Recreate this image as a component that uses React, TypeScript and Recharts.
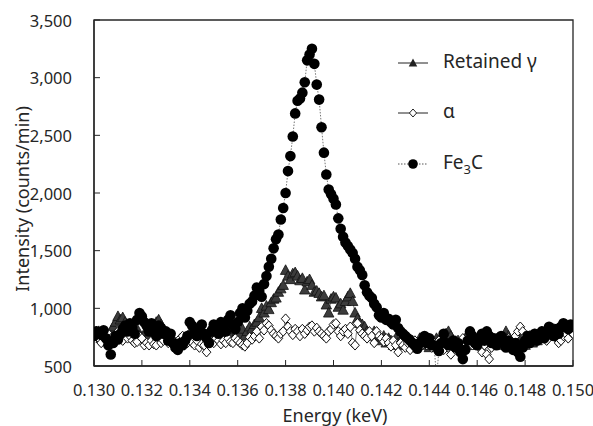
import React from "react";
import { LineChart, Line, XAxis, YAxis, ReferenceArea, Legend, Label } from "recharts";

// channel energies (keV)
const energy = [
  0.13, 0.1301, 0.1302, 0.1303, 0.1304, 0.1305, 0.1306, 0.1307, 0.1308, 0.1309,
  0.131, 0.1311, 0.1312, 0.1313, 0.1314, 0.1315, 0.1316, 0.1317, 0.1318, 0.1319,
  0.132, 0.1321, 0.1322, 0.1323, 0.1324, 0.1325, 0.1326, 0.1327, 0.1328, 0.1329,
  0.133, 0.1331, 0.1332, 0.1333, 0.1334, 0.1335, 0.1336, 0.1337, 0.1338, 0.1339,
  0.134, 0.1341, 0.1342, 0.1343, 0.1344, 0.1345, 0.1346, 0.1347, 0.1348, 0.1349,
  0.135, 0.1351, 0.1352, 0.1353, 0.1354, 0.1355, 0.1356, 0.1357, 0.1358, 0.1359,
  0.136, 0.1361, 0.1362, 0.1363, 0.1364, 0.1365, 0.1366, 0.1367, 0.1368, 0.1369,
  0.137, 0.1371, 0.1372, 0.1373, 0.1374, 0.1375, 0.1376, 0.1377, 0.1378, 0.1379,
  0.138, 0.1381, 0.1382, 0.1383, 0.1384, 0.1385, 0.1386, 0.1387, 0.1388, 0.1389,
  0.139, 0.1391, 0.1392, 0.1393, 0.1394, 0.1395, 0.1396, 0.1397, 0.1398, 0.1399,
  0.14, 0.1401, 0.1402, 0.1403, 0.1404, 0.1405, 0.1406, 0.1407, 0.1408, 0.1409,
  0.141, 0.1411, 0.1412, 0.1413, 0.1414, 0.1415, 0.1416, 0.1417, 0.1418, 0.1419,
  0.142, 0.1421, 0.1422, 0.1423, 0.1424, 0.1425, 0.1426, 0.1427, 0.1428, 0.1429,
  0.143, 0.1431, 0.1432, 0.1433, 0.1434, 0.1435, 0.1436, 0.1437, 0.1438, 0.1439,
  0.144, 0.1441, 0.1442, 0.1443, 0.1444, 0.1445, 0.1446, 0.1447, 0.1448, 0.1449,
  0.145, 0.1451, 0.1452, 0.1453, 0.1454, 0.1455, 0.1456, 0.1457, 0.1458, 0.1459,
  0.146, 0.1461, 0.1462, 0.1463, 0.1464, 0.1465, 0.1466, 0.1467, 0.1468, 0.1469,
  0.147, 0.1471, 0.1472, 0.1473, 0.1474, 0.1475, 0.1476, 0.1477, 0.1478, 0.1479,
  0.148, 0.1481, 0.1482, 0.1483, 0.1484, 0.1485, 0.1486, 0.1487, 0.1488, 0.1489,
  0.149, 0.1491, 0.1492, 0.1493, 0.1494, 0.1495, 0.1496, 0.1497, 0.1498, 0.1499,
  0.15,
];

const retainedGamma = [
  780, 760, 800, 740, 720, 780, 750, 800, 840, 880,
  930, 900, 920, 880, 850, 820, 800, 780, 820, 760,
  740, 780, 800, 760, 820, 860, 880, 900, 860, 820,
  780, 740, 760, 720, 700, 680, 720, 700, 740, 760,
  780, 740, 800, 760, 720, 780, 740, 760, 800, 780,
  740, 760, 800, 780, 820, 760, 800, 780, 820, 760,
  800, 780, 820, 760, 800, 840, 820, 860, 880, 920,
  1000, 960, 1020, 990, 1050, 1080, 1090, 1140, 1170, 1200,
  1330, 1280, 1250, 1300, 1310, 1280, 1240, 1260, 1160, 1230,
  1250, 1200, 1140, 1150, 1130, 1100, 1110, 1030, 960, 1080,
  1100, 1090, 1010, 1040, 985, 1060, 1100, 1130, 1060, 960,
  910, 870, 860, 840, 800, 780, 760, 800, 740, 760,
  720, 760, 700, 740, 720, 680, 740, 700, 720, 680,
  700, 740, 680, 720, 660, 700, 740, 680, 720, 700,
  660, 720, 680, 740, 700, 760, 720, 780, 800, 760,
  720, 680, 720, 660, 700, 740, 680, 720, 700, 740,
  680, 720, 760, 700, 740, 780, 740, 700, 720, 680,
  700, 740, 800, 760, 720, 700, 660, 700, 740, 700,
  680, 720, 760, 700, 740, 720, 760, 740, 780, 760,
  800, 760, 820, 780, 800, 760, 820, 800, 780, 820,
  800,
];

const alpha = [
  760, 800, 740, 700, 760, 720, 780, 740, 700, 760,
  800, 760, 720, 780, 740, 760, 720, 700, 710, 760,
  740, 680, 700, 680, 720, 690, 680, 740, 700, 720,
  760, 700, 740, 720, 680, 700, 740, 760, 720, 700,
  740, 700, 680, 720, 660, 690, 680, 620, 700, 720,
  700, 740, 720, 690, 720, 700, 740, 710, 700, 740,
  720, 700, 680, 670, 700, 750, 730, 760, 800, 740,
  840, 810, 870, 850, 810, 780, 760, 740, 780, 800,
  910, 840, 800, 770, 820, 800, 760, 820, 780, 810,
  840, 850, 800, 830, 800, 780, 760, 740, 800, 820,
  860, 870, 800, 760, 800, 820, 780, 840, 700, 680,
  870, 810, 780, 760, 740, 800, 760, 700, 800, 760,
  740, 710, 740, 700, 670, 720, 680, 620, 700, 680,
  660, 700, 640, 680, 720, 690, 660, 700, 740, 680,
  720, 660, 700, 680, 720, 680, 640, 700, 660, 600,
  680, 720, 660, 700, 740, 700, 660, 720, 680, 740,
  700, 660, 620, 680, 600, 560, 660, 700, 740, 680,
  720, 760, 700, 740, 680, 720, 760, 800, 840, 800,
  760, 720, 700, 740, 780, 720, 760, 800, 760, 720,
  840, 800, 760, 740, 700, 720, 760, 780, 740, 800,
  780,
];

const fe3c = [
  760, 800, 790, 770, 810, 740, 680, 600, 700, 760,
  730, 780, 820, 850, 800, 870, 830, 780, 900, 960,
  930, 880, 850, 800, 870, 820, 760, 850, 830, 780,
  800, 720, 780, 700, 660, 640, 700, 680, 720, 760,
  880, 850, 800, 760, 820, 860, 780, 740, 700, 800,
  860, 820, 780, 880, 840, 800, 900, 940, 860, 820,
  880, 960, 1000, 920, 980, 1040, 1060, 1110, 1180, 1150,
  1100, 1210, 1280, 1360, 1430, 1520, 1600, 1640, 1770, 1870,
  2000, 2190, 2320, 2490, 2690, 2800, 2820, 2870, 2960, 3150,
  3200, 3250, 3120, 2940, 2810, 2570, 2350, 2160, 2030, 1990,
  1950, 1900, 1780, 1690, 1620, 1570, 1540, 1510, 1480, 1430,
  1360, 1330, 1290, 1200, 1140, 1110, 1090, 1040, 1010, 940,
  920, 960, 900, 910, 880, 860, 900, 830, 800, 780,
  760, 740, 720, 700, 680, 650, 700, 720, 760, 700,
  740, 680, 680, 400, 630, 700, 780, 700, 680, 700,
  720, 660, 700, 620, 560, 640, 720, 800, 760, 700,
  680, 740, 780, 720, 800, 760, 700, 740, 680, 720,
  760, 700, 660, 720, 680, 640, 700, 620, 580, 660,
  720, 760, 700, 740, 780, 720, 760, 800, 740, 780,
  840, 800, 760, 820, 780, 840, 870, 850, 820, 860,
  840,
];

const xTicks = [0.13, 0.132, 0.134, 0.136, 0.138, 0.14, 0.142, 0.144, 0.146, 0.148, 0.15];
const yTicks = [500, 1000, 1500, 2000, 2500, 3000, 3500];

const data = energy.map((e, i) => ({
  energy: e,
  gamma: retainedGamma[i],
  alpha: alpha[i],
  fe3c: fe3c[i],
}));

const FONT = "'Noto Sans', sans-serif";
const INK = "#262626";

const triPoints = (cx: number, cy: number, s: number) =>
  `${cx},${cy - s} ${cx - s * 0.95},${cy + s * 0.75} ${cx + s * 0.95},${cy + s * 0.75}`;
const diaPoints = (cx: number, cy: number, s: number) =>
  `${cx},${cy - s} ${cx + s * 0.9},${cy} ${cx},${cy + s} ${cx - s * 0.9},${cy}`;

const TriangleDot = (p: any) =>
  p.cx == null || p.cy == null ? <g /> : (
    <polygon points={triPoints(p.cx, p.cy, 5.5)} fill="#3c3c3c" stroke="#111" strokeWidth={0.8} />
  );
const DiamondDot = (p: any) =>
  p.cx == null || p.cy == null ? <g /> : (
    <polygon points={diaPoints(p.cx, p.cy, 4.8)} fill="#fff" stroke="#111" strokeWidth={1} />
  );
const CircleDot = (p: any) =>
  p.cx == null || p.cy == null ? <g /> : <circle cx={p.cx} cy={p.cy} r={5.3} fill="#000" />;

const XTick = ({ x, y, payload }: any) => (
  <g>
    <line x1={x} x2={x} y1={y} y2={y - 6} stroke={INK} strokeWidth={1} />
    <text x={x} y={y + 30} textAnchor="middle" fill={INK} fontSize={16.5} fontFamily={FONT}>
      {payload.value.toFixed(3)}
    </text>
  </g>
);

const YTick = ({ x, y, payload }: any) => (
  <g>
    <line x1={x} x2={x + 6} y1={y} y2={y} stroke={INK} strokeWidth={1} />
    <text x={x - 22} y={y} textAnchor="end" dominantBaseline="central" fill={INK} fontSize={16.5} fontFamily={FONT}>
      {payload.value.toLocaleString("en-US")}
    </text>
  </g>
);

const LegendBox = () => {
  const rows = [
    { y: 23, dash: undefined, marker: "tri", text: <tspan>Retained γ</tspan> },
    { y: 73, dash: undefined, marker: "dia", text: <tspan>α</tspan> },
    {
      y: 124,
      dash: "1.5 1.5",
      marker: "dot",
      text: (
        <>
          <tspan>Fe</tspan>
          <tspan dy={5} fontSize={13}>3</tspan>
          <tspan dy={-5}>C</tspan>
        </>
      ),
    },
  ];
  return (
    <svg width={180} height={150}>
      {rows.map((r, i) => (
        <g key={i}>
          <line x1={8} x2={38} y1={r.y} y2={r.y} stroke={r.dash ? "#555" : "#222"} strokeWidth={1} strokeDasharray={r.dash} />
          {r.marker === "tri" && <polygon points={triPoints(23, r.y, 4.5)} fill="#222" />}
          {r.marker === "dia" && <polygon points={diaPoints(23, r.y, 4)} fill="#fff" stroke="#222" strokeWidth={1} />}
          {r.marker === "dot" && <circle cx={23} cy={r.y} r={4.8} fill="#000" />}
          <text x={53} y={r.y + 4.5} fill={INK} fontSize={19} fontFamily={FONT}>
            {r.text}
          </text>
        </g>
      ))}
    </svg>
  );
};

export default function App() {
  return (
    <div style={{ position: "absolute", left: 0, top: 0, background: "#fff" }}>
      <LineChart width={593} height={426} data={data} margin={{ top: 20, right: 20, left: 8, bottom: 0 }}>
        <XAxis
          dataKey="energy"
          type="number"
          domain={[0.13, 0.15]}
          ticks={xTicks}
          allowDataOverflow
          height={60}
          tickSize={0}
          tickMargin={0}
          tickLine={false}
          tick={<XTick />}
          axisLine={{ stroke: INK, strokeWidth: 1.3 }}
        >
          <Label
            content={() => (
              <text x={335} y={422} textAnchor="middle" fill={INK} fontSize={18} fontFamily={FONT}>
                Energy (keV)
              </text>
            )}
          />
        </XAxis>
        <YAxis
          type="number"
          domain={[500, 3500]}
          ticks={yTicks}
          allowDataOverflow
          width={86}
          tickSize={0}
          tickMargin={0}
          tickLine={false}
          tick={<YTick />}
          axisLine={{ stroke: INK, strokeWidth: 1.3 }}
        >
          <Label
            content={() => (
              <text
                x={22}
                y={199}
                transform="rotate(-90 22 199)"
                textAnchor="middle"
                dominantBaseline="central"
                fill={INK}
                fontSize={18}
                fontFamily={FONT}
              >
                Intensity (counts/min)
              </text>
            )}
          />
        </YAxis>
        <Line
          dataKey="gamma"
          type="linear"
          stroke="#444"
          strokeWidth={0.7}
          dot={TriangleDot}
          activeDot={false}
          isAnimationActive={false}
        />
        <Line
          dataKey="alpha"
          type="linear"
          stroke="#444"
          strokeWidth={0.7}
          dot={DiamondDot}
          activeDot={false}
          isAnimationActive={false}
        />
        <Line
          dataKey="fe3c"
          type="linear"
          stroke="#666"
          strokeWidth={0.9}
          strokeDasharray="1.5 1.5"
          dot={CircleDot}
          activeDot={false}
          isAnimationActive={false}
        />
        <ReferenceArea x1={0.13} x2={0.15} y1={500} y2={3500} fill="none" stroke={INK} strokeWidth={1.3} />
        <Legend
          layout="vertical"
          align="center"
          verticalAlign="middle"
          wrapperStyle={{ left: 390, top: 40, width: 180, height: 150 }}
          content={() => <LegendBox />}
        />
      </LineChart>
    </div>
  );
}
